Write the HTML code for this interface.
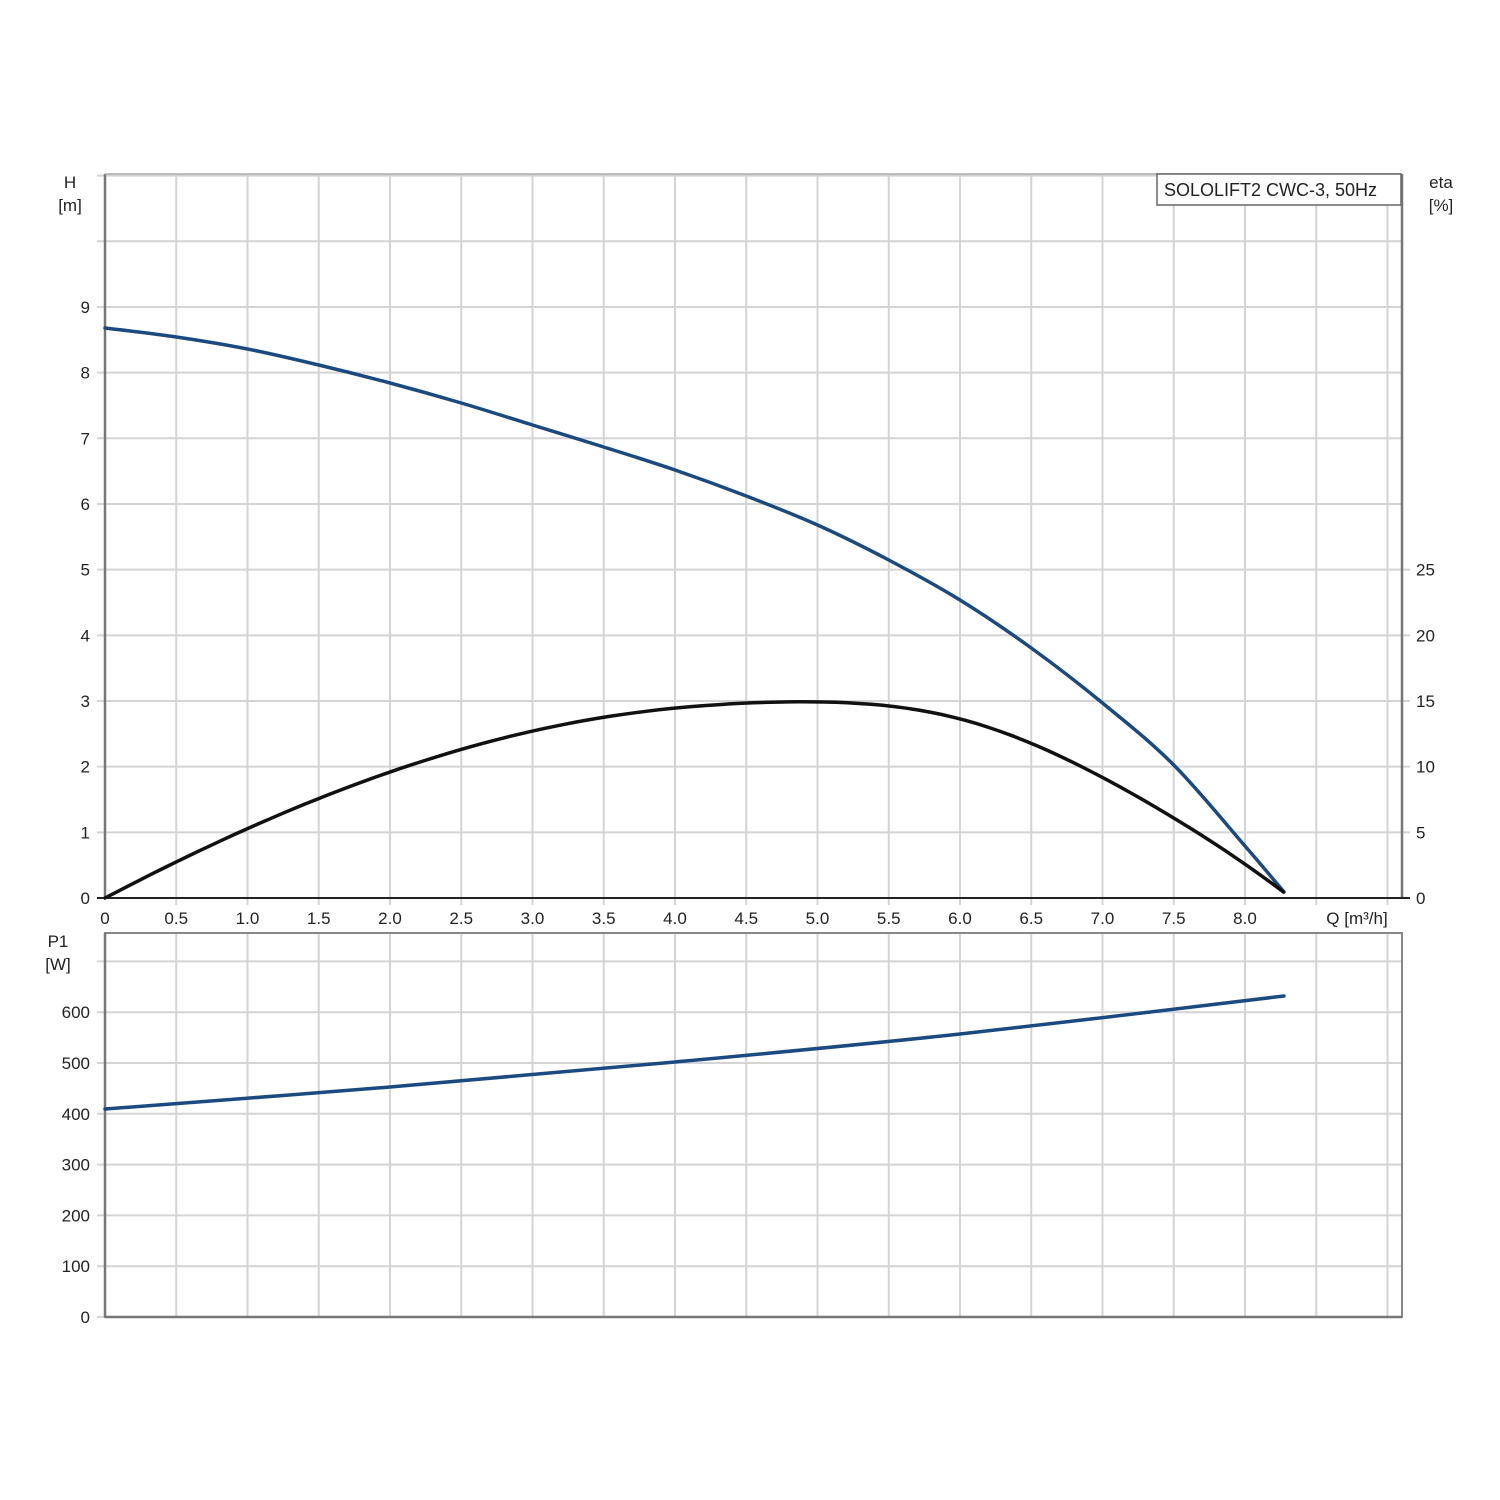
<!DOCTYPE html>
<html><head><meta charset="utf-8"><style>
html,body{margin:0;padding:0;background:#fff;}
svg{display:block;font-family:"Liberation Sans",sans-serif;}
</style></head><body>
<svg id="s" width="1500" height="1500" viewBox="0 0 1500 1500" xmlns="http://www.w3.org/2000/svg">
<rect width="1500" height="1500" fill="#fff"/>
<g id="grid" stroke="#d4d4d4" stroke-width="2"></g>
<g id="axes"></g>
<g id="txt" font-size="17" fill="#222"></g>
<rect x="1157" y="174" width="244" height="31" fill="#fff" stroke="#666" stroke-width="1.5"/>
<text x="1164" y="196" font-size="18" fill="#222">SOLOLIFT2 CWC-3, 50Hz</text>
<text x="70" y="188" font-size="17" fill="#222" text-anchor="middle">H</text>
<text x="70" y="211" font-size="17" fill="#222" text-anchor="middle">[m]</text>
<text x="1441" y="188" font-size="17" fill="#222" text-anchor="middle">eta</text>
<text x="1441" y="211" font-size="17" fill="#222" text-anchor="middle">[%]</text>
<text x="58" y="947" font-size="17" fill="#222" text-anchor="middle">P1</text>
<text x="58" y="970" font-size="17" fill="#222" text-anchor="middle">[W]</text>
<text x="1357" y="924" font-size="17" fill="#222" text-anchor="middle">Q [m³/h]</text>
<g id="curves" fill="none" stroke-width="3.5" stroke-linejoin="round" stroke-linecap="round"></g>
</svg>
<script>
var NS="http://www.w3.org/2000/svg";
function el(p,t,a,txt){var e=document.createElementNS(NS,t);for(var k in a)e.setAttribute(k,a[k]);if(txt!==undefined)e.textContent=txt;document.getElementById(p).appendChild(e);}
function cr(P){var d="M"+P[0][0]+","+P[0][1];for(var i=0;i<P.length-1;i++){var p0=P[i-1]||P[i],p1=P[i],p2=P[i+1],p3=P[i+2]||P[i+1];
d+=" C"+(p1[0]+(p2[0]-p0[0])/6)+","+(p1[1]+(p2[1]-p0[1])/6)+" "+(p2[0]-(p3[0]-p1[0])/6)+","+(p2[1]-(p3[1]-p1[1])/6)+" "+p2[0]+","+p2[1];}return d;}
var xs=[];for(var k=0;k<=18;k++)xs.push(105+71.25*k);
xs.forEach(function(x,i){if(i>0)el("grid","line",{x1:x,y1:174,x2:x,y2:905});if(i>0)el("grid","line",{x1:x,y1:933,x2:x,y2:1317});});
for(var i=1;i<=11;i++){var y=898-65.67*i;el("grid","line",{x1:97,y1:y,x2:1402,y2:y});}
for(var i=0;i<=7;i++){var y=1317-50.8*i;el("grid","line",{x1:97,y1:y,x2:1402,y2:y});}
for(var i=0;i<=5;i++){var y=898-65.67*i;el("grid","line",{x1:1402,y1:y,x2:1410,y2:y});}
el("axes","line",{x1:105,y1:174,x2:105,y2:898,stroke:"#777","stroke-width":2.5});
el("axes","line",{x1:1402,y1:174,x2:1402,y2:898,stroke:"#777","stroke-width":2.5});
el("axes","line",{x1:105,y1:174,x2:1402,y2:174,stroke:"#aaa","stroke-width":1.5});
el("axes","line",{x1:97,y1:898,x2:1410,y2:898,stroke:"#222","stroke-width":2});
el("axes","rect",{x:105,y:933,width:1297,height:384,fill:"none",stroke:"#888","stroke-width":2});
el("axes","line",{x1:105,y1:1317,x2:1402,y2:1317,stroke:"#777","stroke-width":2.5});
el("axes","line",{x1:105,y1:933,x2:105,y2:1317,stroke:"#777","stroke-width":2.5});
for(var i=0;i<=9;i++)el("txt","text",{x:90,y:898-65.67*i+6,"text-anchor":"end"},""+i);
for(var i=0;i<=5;i++)el("txt","text",{x:1416,y:898-65.67*i+6},""+(i*5));
for(var i=0;i<=6;i++)el("txt","text",{x:90,y:1317-50.8*i+6,"text-anchor":"end"},""+(i*100));
for(var k=0;k<=16;k++){var v=k==0?"0":(k*0.5).toFixed(1);el("txt","text",{x:105+71.25*k,y:924,"text-anchor":"middle"},v);}
var hv=[570,561,549,533,515,495,473,451,428,402,373,338,298,250,195,133,52];
var H=hv.map(function(v,i){return [105+71.25*i,898-v];});H.push([1284,892]);
var E=[];for(var i=0;i<=100;i++){var q=8.27*i/100;var f=74.77*q-4.909*q*q-0.489*q*q*q+12*Math.exp(-Math.pow((q-6.3)/1.2,2))*(8.27-q)/2;E.push([(105+142.5*q).toFixed(1),(898-f).toFixed(1)]);}
var P=[[105,1109],[390,1087],[675,1062],[960,1034],[1284,996]];
el("curves","path",{d:cr(H),stroke:"#1a4a80"});
el("curves","path",{d:"M"+E.join(" L"),stroke:"#111"});
el("curves","path",{d:cr(P),stroke:"#1a4a80"});
</script>
</body></html>
